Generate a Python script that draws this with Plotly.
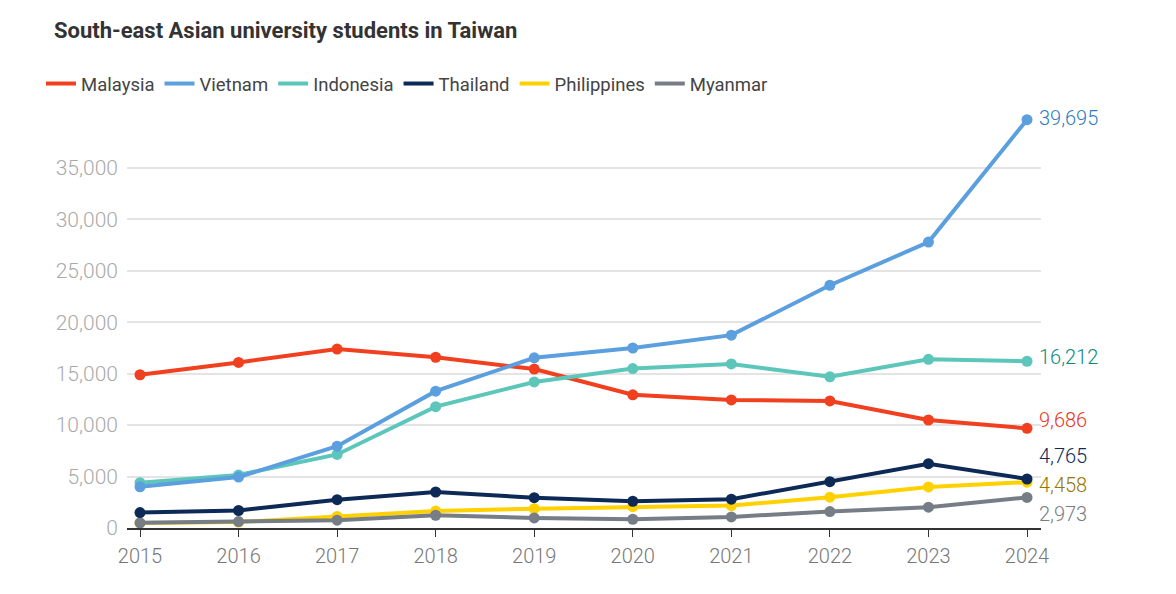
import plotly.graph_objects as go

years = [2015, 2016, 2017, 2018, 2019, 2020, 2021, 2022, 2023, 2024]
malaysia = [14900, 16100, 17400, 16600, 15450, 12950, 12450, 12350, 10500, 9686]
vietnam = [4000, 4950, 7950, 13300, 16550, 17500, 18750, 23600, 27800, 39695]
indonesia = [4400, 5150, 7150, 11800, 14200, 15500, 15950, 14700, 16400, 16212]
thailand = [1500, 1700, 2750, 3500, 2950, 2600, 2800, 4500, 6250, 4765]
philippines = [480, 580, 1130, 1650, 1880, 2070, 2180, 3000, 3990, 4458]
myanmar = [500, 620, 760, 1240, 980, 850, 1080, 1600, 2020, 2973]

series = [
    ("Malaysia", malaysia, "#f0401f", "#e8361c", 8),
    ("Vietnam", vietnam, "#5b9fdf", "#2f7dc0", 2),
    ("Indonesia", indonesia, "#5dc6bb", "#0f8a7e", 4),
    ("Thailand", thailand, "#0d2a57", "#0d2a57", 23),
    ("Philippines", philippines, "#ffd100", "#967800", -3),
    ("Myanmar", myanmar, "#767d86", "#767d86", -17),
]
draw_order = ["Malaysia", "Indonesia", "Vietnam", "Philippines", "Myanmar", "Thailand"]

fig = go.Figure()
lookup = {s[0]: s for s in series}
for name in draw_order:
    _, vals, col, _, _ = lookup[name]
    fig.add_trace(go.Scatter(
        x=years, y=vals, mode="lines+markers", name=name, showlegend=False,
        line=dict(color=col, width=4), marker=dict(color=col, size=11),
        hoverinfo="x+y+name"))

# legend-only traces (lines only)
for i, (name, vals, col, _, _) in enumerate(series):
    fig.add_trace(go.Scatter(
        x=[None], y=[None], mode="lines", name=name, legendrank=i + 1,
        line=dict(color=col, width=4)))

for name, vals, col, lcol, ysh in series:
    fig.add_annotation(
        x=years[-1], y=vals[-1], text=f"{vals[-1]:,}", showarrow=False,
        xanchor="left", yanchor="middle", xshift=10, yshift=ysh,
        font=dict(family="Roboto", size=20, color=lcol, weight=300))

fig.update_layout(
    width=1176, height=594,
    margin=dict(l=127, r=135, t=96, b=66, autoexpand=False),
    paper_bgcolor="white", plot_bgcolor="white",
    title=dict(text="<b>South-east Asian university students in Taiwan</b>",
               x=54 / 1176, xref="container", xanchor="left",
               y=1 - 30 / 594, yref="container", yanchor="middle",
               font=dict(family="Roboto", size=22, color="#333333")),
    legend=dict(orientation="h", x=41 / 1176, xref="container", xanchor="left",
                y=1 - 84 / 594, yref="container", yanchor="middle",
                font=dict(family="Roboto", size=18.5, color="#444444"),
                itemwidth=30, traceorder="normal"),
    showlegend=True,
    xaxis=dict(range=[2014.868, 2024.142], tickvals=years, ticktext=[str(y) for y in years],
               showgrid=False, zeroline=False, showline=True, linecolor="#333333", linewidth=2,
               ticks="outside", ticklen=7, tickcolor="#333333", tickwidth=1,
               ticklabelstandoff=2,
               tickfont=dict(family="Roboto", size=20, color="#777777", weight=300),
               fixedrange=True),
    yaxis=dict(range=[0, 42000], tickvals=[0, 5000, 10000, 15000, 20000, 25000, 30000, 35000],
               ticktext=["0", "5,000", "10,000", "15,000", "20,000", "25,000", "30,000", "35,000"],
               showgrid=True, gridcolor="#e4e4e4", gridwidth=1.5, zeroline=False, showline=False,
               ticks="", ticklabelstandoff=8,
               tickfont=dict(family="Roboto", size=21, color="#aaaaaa", weight=300),
               fixedrange=True),
)

fig.write_html("out.html")
